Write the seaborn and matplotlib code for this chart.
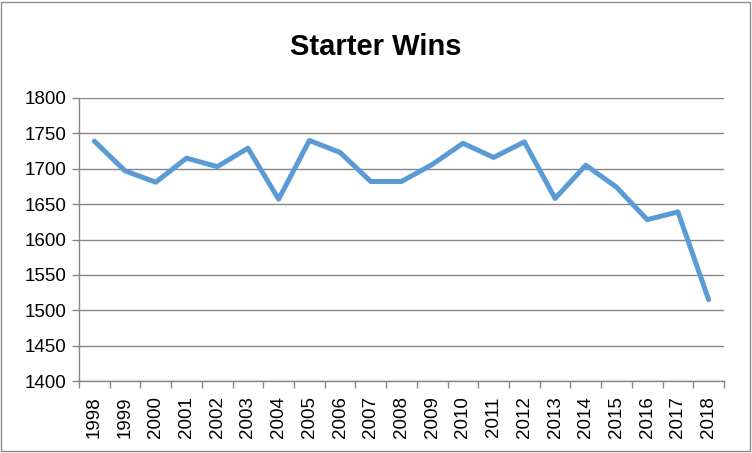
import matplotlib
matplotlib.use('Agg')
import matplotlib.pyplot as plt
import seaborn as sns
import pandas as pd
from matplotlib.patches import Rectangle

# Data
years = [str(y) for y in range(1998, 2019)]
wins = [1739, 1697, 1681, 1715, 1703, 1729, 1657, 1740, 1723, 1682, 1682,
        1706, 1736, 1716, 1738, 1658, 1705, 1674, 1628, 1639, 1515]

LINE_COLOR = '#5B9BD5'
GRID_COLOR = '#868686'

sns.set_theme(style='white')
plt.rcParams['font.family'] = ['Liberation Sans Narrow', 'Liberation Sans', 'DejaVu Sans']
plt.rcParams['text.color'] = 'black'
plt.rcParams['xtick.labelcolor'] = 'black'
plt.rcParams['ytick.labelcolor'] = 'black'

df = pd.DataFrame({'year': years, 'wins': wins})

fig = plt.figure(figsize=(7.52, 4.53), dpi=100)
ax = fig.add_axes([79 / 752, 72 / 453, 645 / 752, 283 / 453])

sns.lineplot(data=df, x='year', y='wins', ax=ax, color=LINE_COLOR,
             linewidth=3.6, sort=False)

ax.set_xlim(-0.5, len(years) - 0.5)
ax.set_ylim(1400, 1800)
ax.set_yticks(range(1400, 1801, 50))
ax.yaxis.grid(True, color=GRID_COLOR, linewidth=1)
ax.set_axisbelow(True)

ax.set_xticks(range(len(years)))
ax.set_xticklabels(years, rotation=90)
ax.set_xticks([i - 0.5 for i in range(len(years) + 1)], minor=True)
ax.tick_params(axis='x', which='major', length=0, pad=11, labelsize=13.5)
ax.tick_params(axis='x', which='minor', length=5, width=1, color=GRID_COLOR, direction='out', bottom=True)
ax.tick_params(axis='y', length=5, width=1, color=GRID_COLOR, direction='out', left=True, labelsize=13.5, pad=4)

for side in ['top', 'right']:
    ax.spines[side].set_visible(False)
for side in ['left', 'bottom']:
    ax.spines[side].set_color(GRID_COLOR)
    ax.spines[side].set_linewidth(1)

ax.set_xlabel('')
ax.set_ylabel('')

fig.text(0.5, 1 - 47 / 453, 'Starter Wins', ha='center', va='center',
         fontsize=21, fontweight='bold', color='black')

fig.patches.append(Rectangle((1 / 752, 2 / 453), 749 / 752, 449 / 453,
                             transform=fig.transFigure, fill=False,
                             edgecolor='#8c8c8c', linewidth=1))

fig.savefig('out.png', dpi=100)
